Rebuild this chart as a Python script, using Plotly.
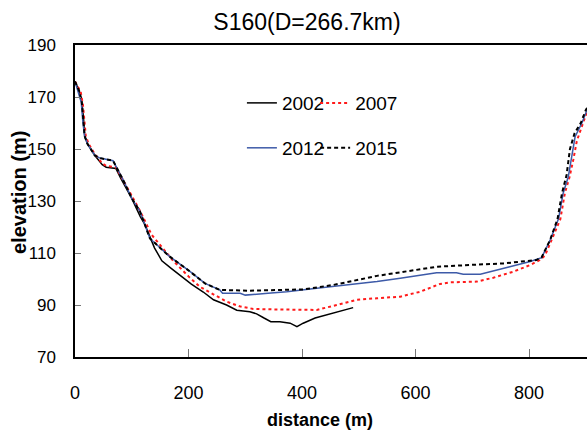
import plotly.graph_objects as go

# ---- data (distance m, elevation m) ----
x2002 = [0, 8, 12, 15, 17, 22, 35, 48, 55, 72, 80, 100, 115, 123, 140, 153, 170, 188, 205, 226, 244, 267, 285, 308, 320, 333, 345, 361, 379, 391, 402, 423, 455, 490]
y2002 = [176, 172, 168, 162, 155, 152, 147.5, 144, 143, 142.5, 139, 131, 124, 121, 112, 107, 104, 101, 98, 95, 92, 90, 88, 87.4, 86.6, 85, 83.6, 83.6, 83, 81.7, 83, 85, 86.8, 89]

x2007 = [0, 10, 14, 17, 19, 24, 35, 48, 55, 72, 80, 100, 115, 135, 173, 200, 220, 245, 267, 290, 314, 350, 426, 461, 496, 532, 573, 608, 643, 661, 708, 737, 772, 802, 819, 828, 840, 855, 863, 871, 878, 884, 895, 905, 915]
y2007 = [176, 172, 167, 160, 155, 152, 148, 144.5, 143.5, 143, 140, 132, 126, 117, 107, 101, 97, 94, 91.3, 89.5, 88.5, 88.3, 88.1, 90, 92, 92.6, 93.2, 95.1, 98.1, 98.7, 99, 100.5, 102.8, 105.4, 107.3, 109, 115, 123, 133, 139, 146, 153, 160, 166, 169]

x2012 = [0, 6, 11, 14, 17, 22, 35, 44, 60, 67, 73, 85, 100, 114.5, 132, 167, 203, 229, 255, 260, 291, 300, 340, 373, 426, 485, 532, 573, 608, 637, 672, 684, 714, 737, 766, 802, 822, 837, 852, 860, 869, 875, 881, 893, 902, 912]
y2012 = [176, 172, 168, 160, 155, 152, 147.5, 146.5, 146, 145.5, 143, 138, 131, 126, 115.6, 108.6, 102.8, 98.3, 95.8, 94.5, 94.5, 93.8, 94.5, 95.1, 96.4, 97.7, 99, 100.3, 101.5, 102.4, 102.4, 101.8, 101.8, 103.2, 104.7, 106.7, 108.2, 115, 123.3, 133, 139.3, 147, 154.7, 160, 165, 169]

x2015 = [0, 8, 12, 15, 17, 22, 35, 44, 60, 67, 73, 85, 100, 114.5, 132, 167, 203, 229, 255, 308, 402, 455, 532, 578, 637, 696, 755, 813, 822, 837, 850, 858, 866, 872, 880, 891, 900, 910]
y2015 = [176, 172, 168, 160, 155, 152, 147.5, 146.5, 146, 145.5, 143, 138, 131, 126, 115.6, 108.6, 102.8, 98.3, 95.8, 95.5, 96, 97.7, 101.2, 102.8, 104.7, 105.4, 106, 107.3, 108.3, 115, 123, 133, 140, 150, 156, 160, 165, 169]

x_ticks = [0, 200, 400, 600, 800]
y_ticks = [70, 90, 110, 130, 150, 170, 190]

FONT = "Liberation Sans, Arial, sans-serif"
W, H = 587, 434

fig = go.Figure()
fig.add_trace(go.Scatter(x=x2002, y=y2002, mode="lines", name="2002",
                         line=dict(color="black", width=1.5), legend="legend"))
fig.add_trace(go.Scatter(x=x2007, y=y2007, mode="lines", name="2007",
                         line=dict(color="#ff1a1a", width=2, dash="3px,3px"), legend="legend2"))
fig.add_trace(go.Scatter(x=x2012, y=y2012, mode="lines", name="2012",
                         line=dict(color="#3d5aa8", width=1.5), legend="legend3"))
fig.add_trace(go.Scatter(x=x2015, y=y2015, mode="lines", name="2015",
                         line=dict(color="black", width=2, dash="4px,3px"), legend="legend4"))

leg_common = dict(bgcolor="rgba(0,0,0,0)", borderwidth=0, visible=True,
                  font=dict(family=FONT, size=19, color="black"),
                  xanchor="left", yanchor="middle", orientation="h")

fig.update_layout(
    width=W, height=H,
    margin=dict(l=75, r=0, t=45, b=77),
    paper_bgcolor="white", plot_bgcolor="white",
    showlegend=True,
    title=dict(text="S160(D=266.7km)", x=307 / W, xanchor="center", xref="container",
               y=1 - 22 / H, yanchor="middle", yref="container",
               font=dict(family=FONT, size=23, color="black")),
    xaxis=dict(range=[0, 902], tickvals=x_ticks, ticks="inside", ticklen=8,
               tickcolor="#777", tickwidth=1.2, showline=True, linecolor="black",
               linewidth=1.5, mirror=True, showgrid=False, zeroline=False,
               ticklabelstandoff=19,
               tickfont=dict(family=FONT, size=18, color="black")),
    yaxis=dict(range=[70, 190], tickvals=y_ticks, ticks="inside", ticklen=6,
               tickcolor="#777", tickwidth=1.2, showline=True, linecolor="black",
               linewidth=1.5, mirror=False, showgrid=False, zeroline=False,
               ticklabelstandoff=14,
               tickfont=dict(family=FONT, size=17, color="black")),
    legend=dict(x=0.326, y=0.814, **leg_common),
    legend2=dict(x=0.469, y=0.814, **leg_common),
    legend3=dict(x=0.326, y=0.67, **leg_common),
    legend4=dict(x=0.469, y=0.67, **leg_common),
    annotations=[
        dict(text="<b>distance (m)</b>", xref="paper", yref="paper",
             x=(319.5 - 75) / 512, y=-(420 - 357) / 312, xanchor="center", yanchor="middle",
             showarrow=False, font=dict(family=FONT, size=18, color="black")),
        dict(text="<b>elevation (m)</b>", xref="paper", yref="paper",
             x=-(75 - 19) / 512, y=(357 - 193) / 312, xanchor="center", yanchor="middle",
             textangle=-90, showarrow=False, font=dict(family=FONT, size=20, color="black")),
    ],
)

fig.write_html("out.html")
